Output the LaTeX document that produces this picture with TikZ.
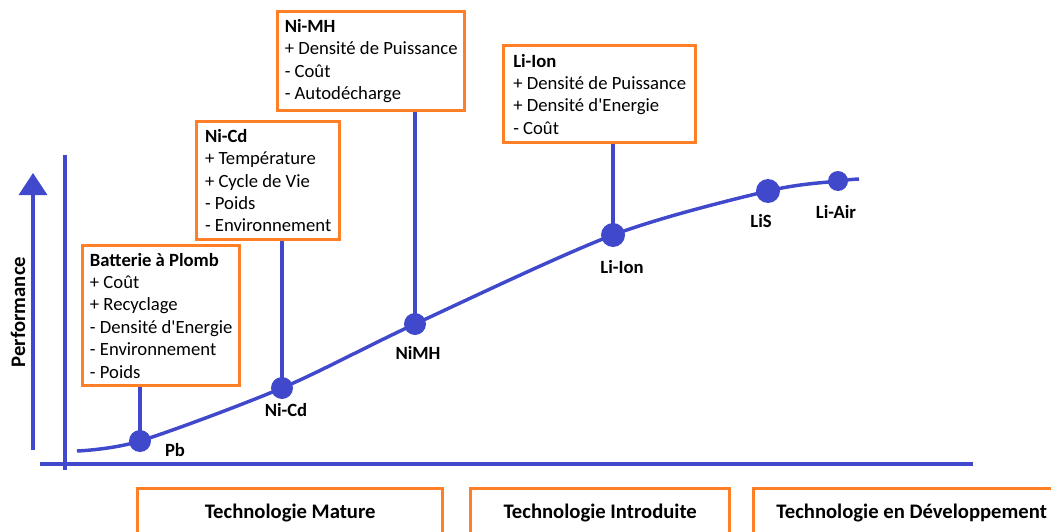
\documentclass[tikz,border=0pt]{standalone}
\usepackage{fontspec}
\setmainfont{Carlito}[Ligatures=TeXOff]
\usetikzlibrary{arrows.meta,positioning}
\definecolor{perfblue}{RGB}{64,72,204}
\definecolor{boxorange}{RGB}{255,127,39}
\tikzset{
  axisline/.style = {draw=perfblue, line width=2.6pt},
  stem/.style = {draw=perfblue, line width=2.4pt},
  infobox/.style = {draw=boxorange, line width=2.5pt, fill=white, anchor=north west, align=left, inner xsep=4pt, inner ysep=2pt, font=\fontsize{14}{16.8}\selectfont},
  techbox/.style = {draw=boxorange, line width=2.5pt, anchor=north west, font=\bfseries\fontsize{15.5}{18}\selectfont},
  tdot/.style = {circle, fill=perfblue, inner sep=0pt, minimum size=16.5pt},
  dotlabel/.style = {font=\bfseries\fontsize{14}{16}\selectfont},
}

\begin{document}
\begin{tikzpicture}[x=0.75pt,y=-0.75pt]
\useasboundingbox (0,0) rectangle (1051,532);
\clip (0,0) rectangle (1051,532);

% axes
\coordinate (perfBot) at (33,450);
\coordinate (perfTop) at (33,173);
\draw[axisline,-{Triangle[width=21pt,length=16.5pt]}] (perfBot) -- (perfTop);
\node[rotate=90, dotlabel, font=\bfseries\fontsize{15.5}{18}\selectfont] (perfLabel) at (18,312) {Performance};
\coordinate (yBot) at (65,470);
\coordinate (yTop) at (65,155);
\coordinate (xLeft) at (40,464);
\coordinate (xRight) at (973,464);
\draw[axisline] (yBot) -- (yTop);
\draw[axisline] (xLeft) -- (xRight);

% info boxes
\node[infobox, minimum width=117.75pt, minimum height=105pt] (bPlomb) at (81,244)
  {\textbf{Batterie à Plomb}\\+ Coût\\+ Recyclage\\- Densité d'Energie\\- Environnement\\- Poids};
\node[infobox, minimum width=107.25pt, minimum height=88.5pt] (bNiCd) at (195,120)
  {\textbf{Ni-Cd}\\+ Température\\+ Cycle de Vie\\- Poids\\- Environnement};
\node[infobox, minimum width=140.25pt, minimum height=74.25pt] (bNiMH) at (276,10)
  {\textbf{Ni-MH}\\+ Densité de Puissance\\- Coût\\- Autodécharge};
\node[infobox, minimum width=144pt, minimum height=72.75pt] (bLiIon) at (502,44)
  {\textbf{Li-Ion}\\+ Densité de Puissance\\+ Densité d'Energie\\- Coût};

% technology points
\node[tdot] (dPb) at (140,441) {};
\node[tdot] (dNiCd) at (282,388) {};
\node[tdot] (dNiMH) at (415,324) {};
\node[tdot, minimum size=18pt] (dLiIon) at (613,235) {};
\node[tdot, minimum size=18pt] (dLiS) at (768,191) {};
\node[tdot, minimum size=15pt] (dLiAir) at (838,181) {};

\coordinate (cStart) at (77,451);
\coordinate (cEnd) at (859,179);
\draw[axisline] plot[smooth] coordinates {(cStart) (dPb.center) (dNiCd.center) (dNiMH.center) (dLiIon.center) (dLiS.center) (dLiAir.center) (cEnd)};

\draw[stem] (bPlomb.south -| dPb) -- (dPb.center);
\draw[stem] (bNiCd.south -| dNiCd) -- (dNiCd.center);
\draw[stem] (bNiMH.south -| dNiMH) -- (dNiMH.center);
\draw[stem] (bLiIon.south -| dLiIon) -- (dLiIon.center);

\node[dotlabel] (lPb) at (175,450) {Pb};
\node[dotlabel] (lNiCd) at (286,410) {Ni-Cd};
\node[dotlabel] (lNiMH) at (418,353) {NiMH};
\node[dotlabel] (lLiIon) at (622,267) {Li-Ion};
\node[dotlabel] (lLiS) at (761,221) {LiS};
\node[dotlabel] (lLiAir) at (836,212) {Li-Air};

% maturity
\node[techbox, minimum width=228.75pt, minimum height=36pt] (tMature) at (136,487) {Technologie Mature};
\node[techbox, minimum width=194.25pt, minimum height=36pt] (tIntro) at (469,487) {Technologie Introduite};
\node[techbox, minimum width=237pt, minimum height=36pt] (tDev) at (752,487) {Technologie en Développement};
\end{tikzpicture}
\end{document}
